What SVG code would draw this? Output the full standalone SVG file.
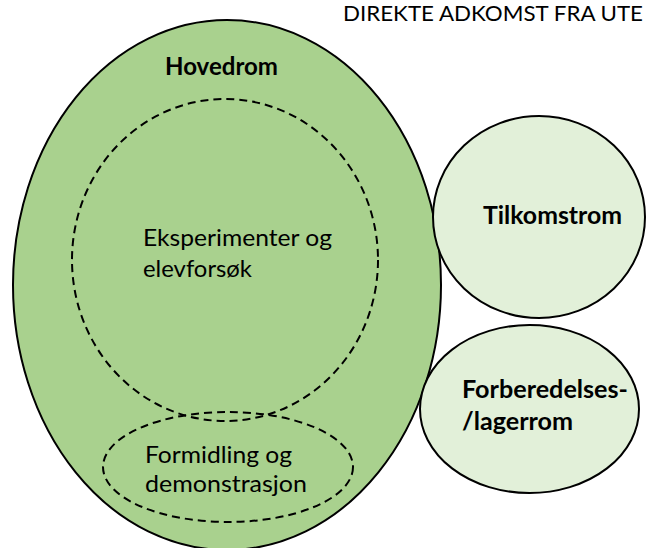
<svg xmlns="http://www.w3.org/2000/svg" width="646" height="548" viewBox="0 0 646 548">
  <style>
    .main { fill: #A9D18E; stroke: #000; stroke-width: 2; }
    .side { fill: #E2F0D9; stroke: #000; stroke-width: 2; }
    .dash { fill: none; stroke: #000; stroke-width: 2; stroke-dasharray: 8 5; }
    text { font-family: Lato, "Open Sans", "Liberation Sans", sans-serif; fill: #000; }
    .reg { font-size: 24px; }
    .bold { font-size: 24px; font-weight: bold; }
    .note { font-size: 22px; }
  </style>
  <rect width="646" height="548" fill="#ffffff"/>
  <text class="note" x="343" y="21" textLength="300" lengthAdjust="spacingAndGlyphs">DIREKTE ADKOMST FRA UTE</text>
  <g id="hovedrom">
    <ellipse class="main" cx="227" cy="285" rx="214" ry="265"/>
    <text class="bold" x="165" y="75" textLength="113" lengthAdjust="spacingAndGlyphs">Hovedrom</text>
  </g>
  <g id="eksperimenter">
    <ellipse class="dash" cx="225" cy="260" rx="153" ry="161"/>
    <text class="reg" x="143" y="246" textLength="189" lengthAdjust="spacingAndGlyphs">Eksperimenter og</text>
    <text class="reg" x="143" y="277" textLength="109" lengthAdjust="spacingAndGlyphs">elevforsøk</text>
  </g>
  <g id="formidling">
    <ellipse class="dash" cx="228" cy="467" rx="125" ry="55"/>
    <text class="reg" x="145" y="463" textLength="147" lengthAdjust="spacingAndGlyphs">Formidling og</text>
    <text class="reg" x="145" y="492" textLength="162" lengthAdjust="spacingAndGlyphs">demonstrasjon</text>
  </g>
  <g id="tilkomstrom">
    <ellipse class="side" cx="539" cy="217" rx="106" ry="101"/>
    <text class="bold" x="483" y="224" textLength="139" lengthAdjust="spacingAndGlyphs">Tilkomstrom</text>
  </g>
  <g id="forberedelse">
    <ellipse class="side" cx="529.5" cy="409" rx="109.5" ry="84"/>
    <text class="bold" x="462" y="398" textLength="166" lengthAdjust="spacingAndGlyphs">Forberedelses-</text>
    <text class="bold" x="462" y="430" textLength="111" lengthAdjust="spacingAndGlyphs">/lagerrom</text>
  </g>
  <g id="connectors"/>
</svg>
